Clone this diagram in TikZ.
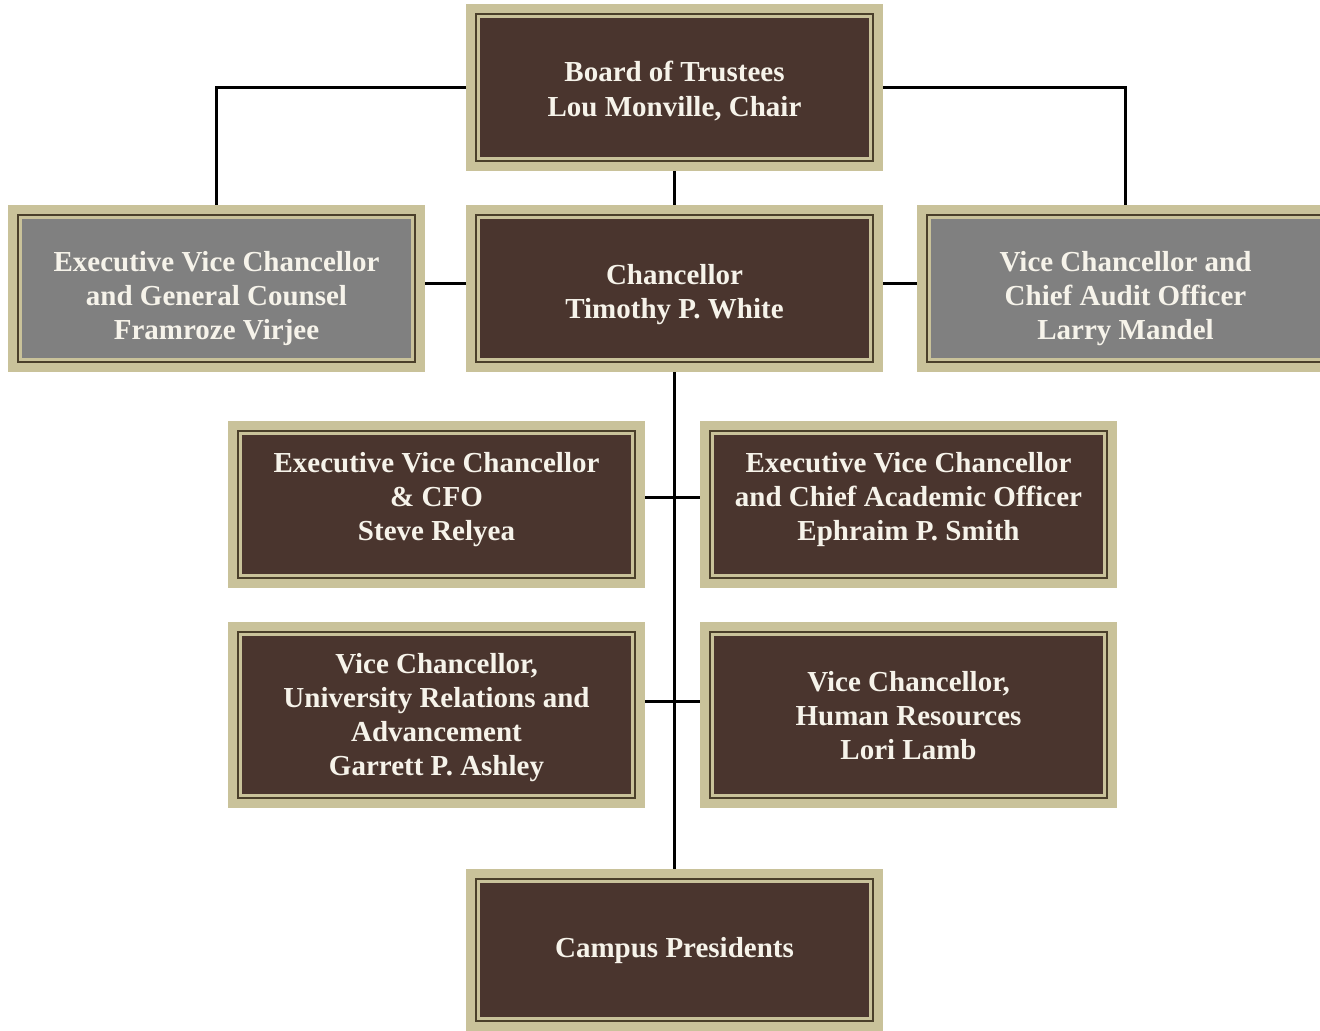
\documentclass[tikz,border=0pt]{standalone}
\usepackage{fontspec}
\setmainfont{Liberation Serif}
\definecolor{boxbrown}{HTML}{4A352E}
\definecolor{boxtan}{HTML}{C9C29A}
\definecolor{boxgray}{HTML}{808080}
\definecolor{rimdark}{HTML}{4A3F2A}
\definecolor{boxtext}{HTML}{F6F3EA}
\tikzset{
  orgbox/.style={minimum width=297.75pt, minimum height=110.25pt, inner sep=0pt, outer sep=7.5pt,
    preaction={draw=boxtan, line width=15pt},
    fill=boxtan, draw=rimdark, line width=1.5pt,
    path picture={\fill[#1] ([shift={(3pt,3pt)}]path picture bounding box.south west) rectangle ([shift={(-3pt,-3pt)}]path picture bounding box.north east);},
    text=boxtext, align=center, font=\fontsize{21.75}{25.5}\selectfont\bfseries,
    text depth=0pt},
  orgbox/.default=boxbrown,
  link/.style={draw=black, line width=2.25pt}
}
\begin{document}
\begin{tikzpicture}[x=0.75pt, y=-0.75pt]
 			\useasboundingbox (0,0) rectangle (1320,1031);
 			\clip (0,0) rectangle (1320,1031);
 			% top row
 			\node[orgbox, text height=42.75pt] (board) at (674.5,87.5) {Board of Trustees\\Lou Monville, Chair};
 			\node[orgbox, text height=44.25pt] (chancellor) at (674.5,288.5) {Chancellor\\Timothy P. White};
 			\node[orgbox=boxgray, text height=75.75pt] (gc) at (216.5,288.5) {Executive Vice Chancellor\\and General Counsel\\Framroze Virjee};
 			\node[orgbox=boxgray, text height=75.75pt] (audit) at (1125.5,288.5) {Vice Chancellor and\\Chief Audit Officer\\Larry Mandel};
 			% staff under the chancellor
 			\node[orgbox, text height=53.25pt] (cfo) at (436.5,504.5) {Executive Vice Chancellor\\\& CFO\\Steve Relyea};
 			\node[orgbox, text height=53.25pt] (cao) at (908.5,504.5) {Executive Vice Chancellor\\and Chief Academic Officer\\Ephraim P. Smith};
 			\node[orgbox, minimum height=124.5pt, text height=90pt] (ur) at (436.5,715) {Vice Chancellor,\\University Relations and\\Advancement\\Garrett P. Ashley};
 			\node[orgbox, minimum height=124.5pt, text height=66pt] (hr) at (908.5,715) {Vice Chancellor,\\Human Resources\\Lori Lamb};
 			\node[orgbox, minimum height=106.5pt, text height=11.25pt] (campus) at (674.5,949.5) {Campus Presidents};
 			% lines
 			\draw[link] (board.west) -| (gc.north);
 			\draw[link] (board.east) -| (audit.north);
 			\draw[link] (board.south) -- (chancellor.north);
 			\draw[link] ([yshift=4pt]chancellor.west) -- ([yshift=4pt]gc.east);
 			\draw[link] ([yshift=4pt]chancellor.east) -- ([yshift=4pt]audit.west);
 			\draw[link] (chancellor.south) -- (campus.north);
 			\draw[link] ([yshift=5.6pt]cfo.east) -- ([yshift=5.6pt]cao.west);
 			\draw[link] ([yshift=10.5pt]ur.east) -- ([yshift=10.5pt]hr.west);
\end{tikzpicture}
\end{document}
